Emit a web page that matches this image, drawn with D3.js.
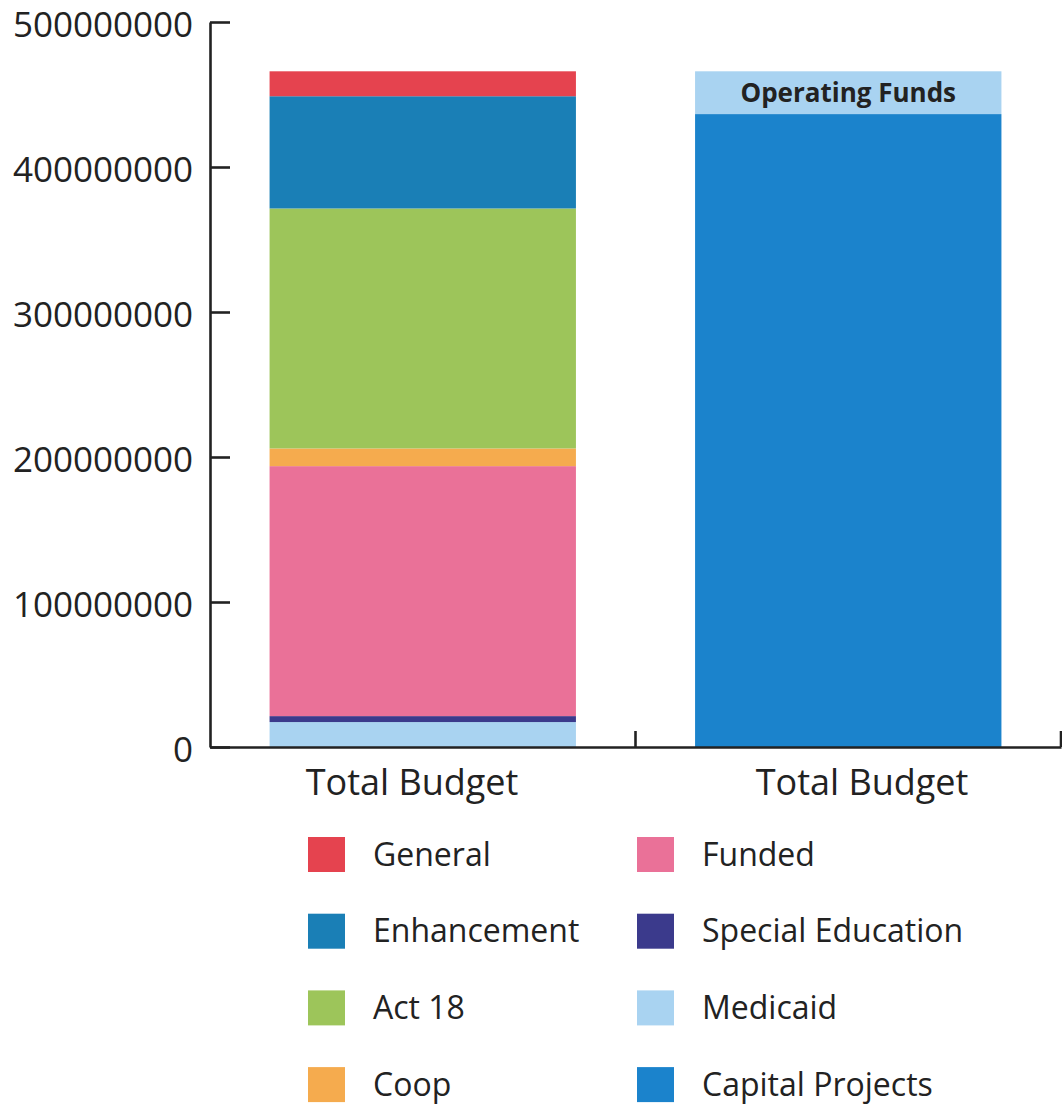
<!DOCTYPE html>
<html>
<head>
<meta charset="utf-8">
<script src="https://cdn.jsdelivr.net/npm/d3@7"></script>
<style>
  body { margin: 0; background: #fff; }
  svg text { font-family: "Open Sans", "Noto Sans", sans-serif; fill: #222; }
</style>
</head>
<body>
<script>
var width = 1062,
    height = 1110;

// Data
var barIndex = [0, 1];
var barLabels = ["Total Budget", "Total Budget"];
var seriesKeys = ["Medicaid", "Special Education", "Funded", "Coop", "Act 18",
                  "Enhancement", "General", "Capital Projects", "Operating Funds"];
var leftValues = [17200000, 4100000, 172400000, 12200000, 165500000, 77400000, 17200000, 0, 0];
var rightValues = [0, 0, 0, 0, 0, 0, 0, 436500000, 29500000];
var yTicks = [0, 100000000, 200000000, 300000000, 400000000, 500000000];
var legendCol1 = ["General", "Enhancement", "Act 18", "Coop"];
var legendCol2 = ["Funded", "Special Education", "Medicaid", "Capital Projects"];
var labelledSeries = "Operating Funds";

var color = d3.scaleOrdinal()
    .domain(seriesKeys)
    .range(["#a9d3f1", "#3b3a8c", "#ea7198", "#f5ab4e", "#9dc55a",
            "#1a7fb6", "#e5434f", "#1b83cc", "#a9d3f1"]);

var svg = d3.select("body")
    .append("svg")
    .attr("width", width)
    .attr("height", height);

// echelles
var x = d3.scaleBand()
    .domain(barIndex)
    .range([210, 1061])
    .paddingInner(0.28)
    .paddingOuter(0.14);

// the category labels sit a bit wider apart than the bars
var xLabel = d3.scalePoint()
    .domain(barIndex)
    .range([412, 862]);

var y = d3.scaleLinear()
    .domain([0, 500000000])
    .range([747, 22]);

// table pour d3.stack
var table = barIndex.map(function (i) {
    var vals = i === 0 ? leftValues : rightValues;
    var row = { bar: i };
    seriesKeys.forEach(function (k, j) { row[k] = vals[j]; });
    return row;
});

var stacked = d3.stack().keys(seriesKeys)(table);

var layers = svg.append("g")
    .selectAll("g")
    .data(stacked)
    .join("g")
    .attr("fill", function (d) { return color(d.key); });

layers.selectAll("rect")
    .data(function (d) {
        return d.filter(function (p) { return p[1] - p[0] > 0; })
            .map(function (p) { return { key: d.key, p: p }; });
    })
    .join("rect")
    .attr("x", function (d) { return x(d.p.data.bar); })
    .attr("width", x.bandwidth())
    .attr("y", function (d) { return y(d.p[1]); })
    .attr("height", function (d) { return y(d.p[0]) - y(d.p[1]); });

// label inside the top segment of the right bar
var opLayer = stacked.find(function (s) { return s.key === labelledSeries; });
var opSeg = opLayer[1];
svg.append("text")
    .attr("x", x(1) + x.bandwidth() / 2)
    .attr("y", (y(opSeg[0]) + y(opSeg[1])) / 2)
    .attr("dy", "0.36em")
    .attr("text-anchor", "middle")
    .style("font-size", "26px")
    .style("font-weight", "bold")
    .text(labelledSeries);

// axe Y
var yAxis = svg.append("g")
    .attr("transform", "translate(210,0)")
    .call(d3.axisLeft(y)
        .tickValues(yTicks)
        .tickFormat(d3.format("d"))
        .tickSizeInner(-20)
        .tickSizeOuter(0)
        .tickPadding(17));

yAxis.selectAll("text")
    .attr("dy", "0.42em")
    .style("font-size", "35px")
    .attr("fill", "#222");

// axe X
var xAxis = svg.append("g")
    .attr("transform", "translate(0,747)")
    .call(d3.axisBottom(x)
        .tickSize(0)
        .tickFormat(""));

xAxis.selectAll("text").remove();

svg.append("g")
    .selectAll("text")
    .data(barIndex)
    .join("text")
    .attr("x", function (i) { return xLabel(i); })
    .attr("y", 795)
    .attr("text-anchor", "middle")
    .style("font-size", "36px")
    .text(function (i) { return barLabels[i]; });

// ticks between the bands
xAxis.selectAll(".boundary")
    .data(barIndex)
    .join("line")
    .attr("class", "boundary")
    .attr("x1", function (i) { return x.range()[0] + x.step() * (i + 1); })
    .attr("x2", function (i) { return x.range()[0] + x.step() * (i + 1); })
    .attr("y1", 0)
    .attr("y2", -16);

svg.selectAll(".domain, .tick line, .boundary")
    .attr("stroke", "#222")
    .attr("stroke-width", 2.6);

// legende
var legendCols = [legendCol1, legendCol2];
var legendX = [308, 637];

legendCols.forEach(function (col, c) {
    var items = svg.append("g")
        .selectAll("g")
        .data(col)
        .join("g")
        .attr("transform", function (d, i) {
            return "translate(" + legendX[c] + "," + (837 + i * 76.7) + ")";
        });

    items.append("rect")
        .attr("width", 37)
        .attr("height", 35)
        .attr("fill", function (d) { return color(d); });

    items.append("text")
        .attr("x", 65)
        .attr("y", 28.5)
        .style("font-size", "32px")
        .text(function (d) { return d; });
});
</script>
</body>
</html>
